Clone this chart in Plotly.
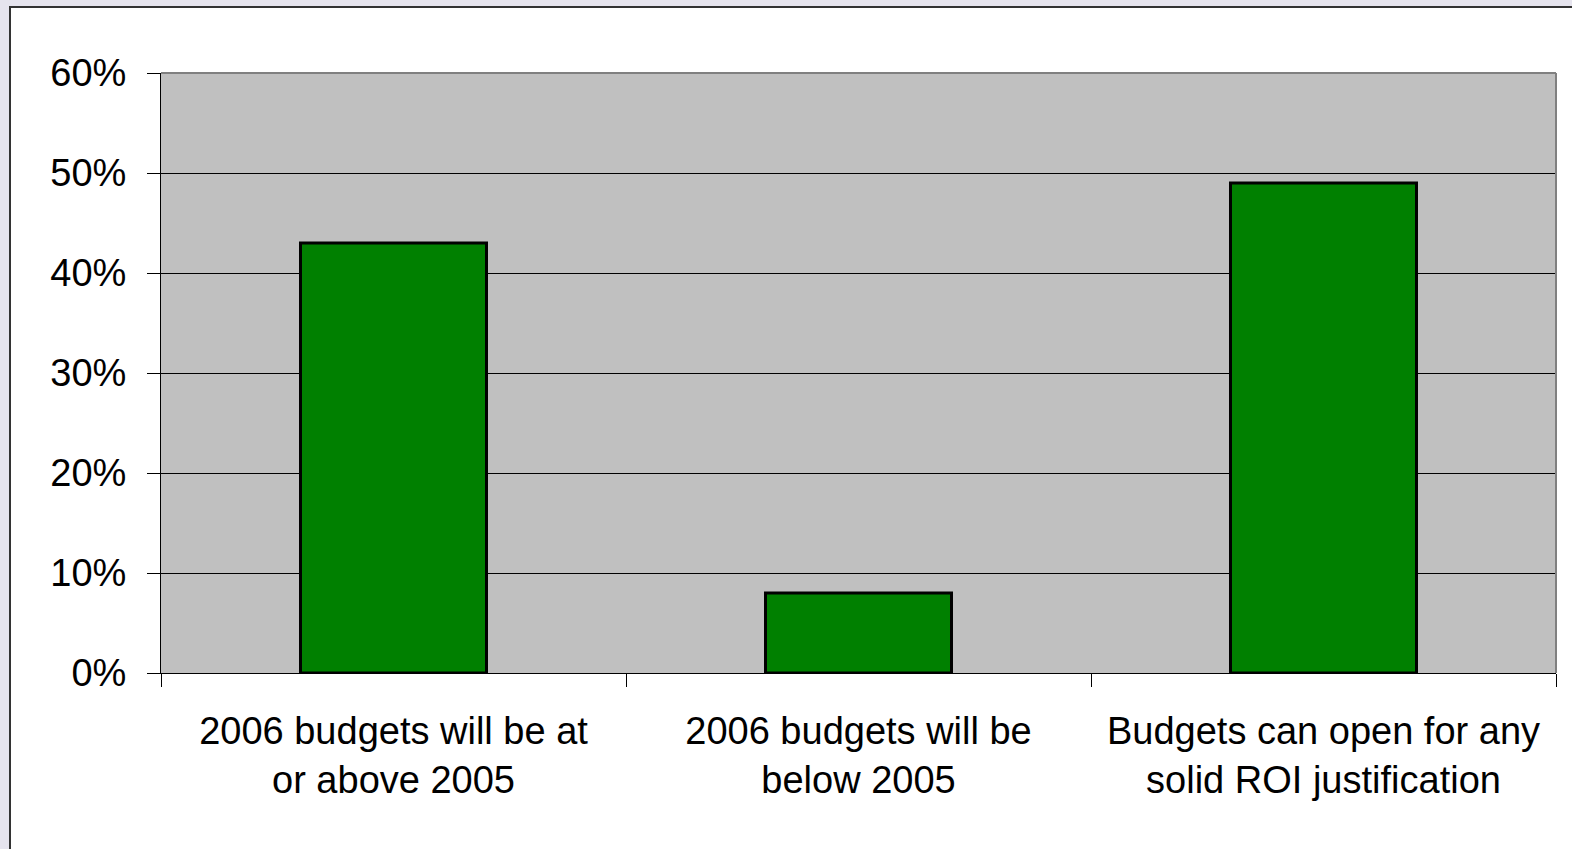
import plotly.graph_objects as go

categories = ["2006 budgets will be at<br>or above 2005",
              "2006 budgets will be<br>below 2005",
              "Budgets can open for any<br>solid ROI justification"]
values = [43, 8, 49]
y_ticks = [0, 10, 20, 30, 40, 50, 60]
y_labels = [f"{v}%" for v in y_ticks]

W, H = 1572, 849
L, R, T, B = 161, 16, 73, 176
pw, ph = W - L - R, H - T - B

fig = go.Figure(go.Bar(
    x=categories, y=values, width=0.40,
    marker=dict(color="#008000", line=dict(color="#000000", width=3)),
    hoverinfo="skip",
))

fig.update_layout(
    width=W, height=H,
    margin=dict(l=L, r=R, t=T, b=B, autoexpand=False),
    paper_bgcolor="#E6E4EE",
    plot_bgcolor="rgba(0,0,0,0)",
    showlegend=False,
    font=dict(family="Liberation Sans, Arial, sans-serif", color="#000000", size=38),
    shapes=[
        dict(type="rect", xref="paper", yref="paper", layer="below",
             x0=(10 - L) / pw, x1=1.5, y0=-0.6, y1=1 + (T - 7) / ph,
             fillcolor="#FFFFFF", line=dict(color="#333333", width=2)),
        dict(type="rect", xref="paper", yref="paper", layer="below",
             x0=0, x1=1, y0=0, y1=1,
             fillcolor="#C0C0C0", line=dict(width=0)),
        dict(type="line", xref="paper", yref="paper", layer="above",
             x0=0, x1=1, y0=1, y1=1, line=dict(color="#808080", width=2)),
        dict(type="line", xref="paper", yref="paper", layer="above",
             x0=1, x1=1, y0=0, y1=1, line=dict(color="#808080", width=2)),
    ],
)

fig.update_yaxes(
    range=[0, 60], tickvals=y_ticks, ticktext=y_labels,
    showgrid=True, gridcolor="#000000", gridwidth=1,
    showline=True, linecolor="#000000", linewidth=1,
    ticks="outside", ticklen=13, tickcolor="#000000",
    ticklabelstandoff=13, tickfont=dict(size=38),
    zeroline=False, fixedrange=True, automargin=False,
)
fig.update_xaxes(
    showline=True, linecolor="#000000", linewidth=1,
    ticks="outside", ticklen=13, tickcolor="#000000",
    tickson="boundaries", ticklabelstandoff=24,
    tickfont=dict(size=38), fixedrange=True, automargin=False,
)

fig.write_html(
    "out.html",
    config={"displayModeBar": False},
    post_script="document.body.style.margin='0';document.body.style.background='#E6E4EE';document.body.style.overflow='hidden';",
)
